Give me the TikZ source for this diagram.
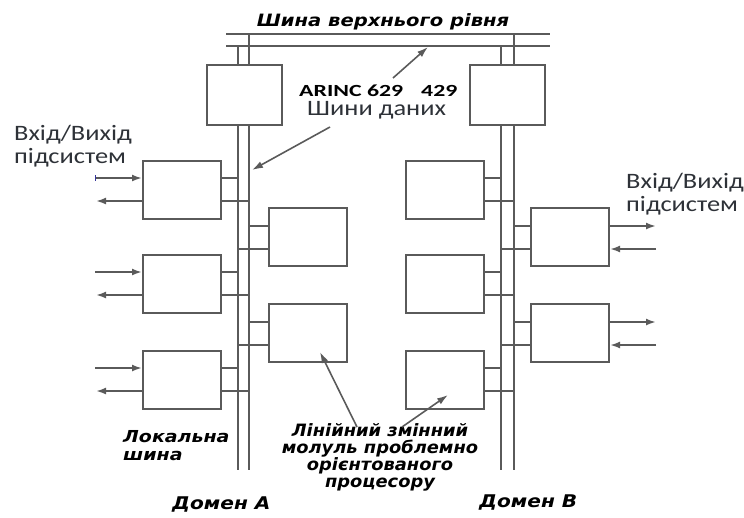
\documentclass[tikz,border=0pt]{standalone}
\usepackage{fontspec}
\setmainfont{Carlito}
\newfontfamily\gfont{DejaVu Sans}[FakeStretch=1.15]
\newfontfamily\hfont{DejaVu Sans}[FakeStretch=1.05]
\newfontfamily\cfont{Carlito}[FakeStretch=1.2]
\newfontfamily\afont{Carlito}[FakeStretch=1.4]
\usetikzlibrary{arrows.meta,calc}
\definecolor{ln}{HTML}{5A5A5A}
\definecolor{tx}{HTML}{2E3238}
\begin{document}
\begin{tikzpicture}[x=1pt,y=-1pt,
  box/.style={draw=ln, line width=2pt, fill=white, minimum width=78pt, minimum height=58pt, inner sep=0pt},
  topbox/.style={box, minimum width=75pt, minimum height=60pt},
  bus/.style={draw=ln, line width=2pt},
  io/.style={draw=ln, line width=2pt, -{Latex[length=10pt,width=7pt]}},
  ptr/.style={draw=ln, line width=1.6pt, -{Latex[length=11pt,width=7pt]}},
  lab/.style={font=\gfont\bfseries\itshape\fontsize{16}{17}\selectfont, text=black, inner sep=0pt},
  cal/.style={font=\cfont\fontsize{22}{23}\selectfont, text=tx, inner sep=0pt, align=left},
  arinc/.style={font=\afont\bfseries\fontsize{17}{18}\selectfont, text=black, inner sep=0pt}]
\useasboundingbox (0,0) rectangle (744,517);
% bus coordinates
\coordinate (T1w) at (226,34); \coordinate (T1e) at (550,34);
\coordinate (T2w) at (226,46); \coordinate (T2e) at (550,46);
\coordinate (A1t) at (238,46); \coordinate (A1b) at (238,470);
\coordinate (A2t) at (249,34); \coordinate (A2b) at (249,470);
\coordinate (B1t) at (501,46); \coordinate (B1b) at (501,470);
\coordinate (B2t) at (514,34); \coordinate (B2b) at (514,470);
\draw[bus] (T1w) -- (T1e);
\draw[bus] (T2w) -- (T2e);
\draw[bus] (A1t) -- (A1b);
\draw[bus] (A2t) -- (A2b);
\draw[bus] (B1t) -- (B1b);
\draw[bus] (B2t) -- (B2b);
% boxes
\node[topbox] (TA) at (244.5,95) {};
\node[topbox] (TB) at (507.5,95) {};
\node[box] (L1) at (182,190) {};
\node[box] (L2) at (182,284) {};
\node[box] (L3) at (182,380) {};
\node[box] (M1) at (308,237) {};
\node[box] (M2) at (308,333) {};
\node[box] (N1) at (445,190) {};
\node[box] (N2) at (445,284) {};
\node[box] (N3) at (445,380) {};
\node[box] (R1) at (570,237) {};
\node[box] (R2) at (570,333) {};
% stubs
\foreach \b in {L1,L2,L3}{
  \draw[bus] ([yshift=12pt]\b.east) -- ([yshift=12pt]\b.east -| A1t);
  \draw[bus] ([yshift=-11pt]\b.east) -- ([yshift=-11pt]\b.east -| A2t);
  \coordinate (in\b) at ([xshift=-47pt,yshift=12pt]\b.west);
  \coordinate (out\b) at ([xshift=-46pt,yshift=-11pt]\b.west);
  \draw[io] (in\b) -- ([yshift=12pt]\b.west);
  \draw[io] ([yshift=-11pt]\b.west) -- (out\b);
}
\foreach \b in {M1,M2}{
  \draw[bus] ([yshift=11pt]\b.west) -- ([yshift=11pt]\b.west -| A2t);
  \draw[bus] ([yshift=-12pt]\b.west) -- ([yshift=-12pt]\b.west -| A1t);
}
\foreach \b in {N1,N2,N3}{
  \draw[bus] ([yshift=12pt]\b.east) -- ([yshift=12pt]\b.east -| B1t);
  \draw[bus] ([yshift=-11pt]\b.east) -- ([yshift=-11pt]\b.east -| B2t);
}
\foreach \b in {R1,R2}{
  \draw[bus] ([yshift=11pt]\b.west) -- ([yshift=11pt]\b.west -| B2t);
  \draw[bus] ([yshift=-12pt]\b.west) -- ([yshift=-12pt]\b.west -| B1t);
  \coordinate (out\b) at ([xshift=46pt,yshift=11pt]\b.east);
  \coordinate (in\b) at ([xshift=46pt,yshift=-12pt]\b.east);
  \draw[io] ([yshift=11pt]\b.east) -- (out\b);
  \draw[io] (in\b) -- ([yshift=-12pt]\b.east);
}
% small tick at first input
\draw[draw=blue!40!ln, line width=0.8pt] ($(inL1)+(0,-3)$) -- ($(inL1)+(0,3)$);
% texts
\node[lab, anchor=base, font=\gfont\bfseries\itshape\fontsize{17}{18}\selectfont] (topt) at (383,26) {Шина верхнього рівня};
\node[arinc, anchor=base west] (arinc) at (299,96) {ARINC 629};
\node[arinc, anchor=base west] (a429) at (421,96) {429};
\node[cal, anchor=base west] (sd) at (307,115) {Шини даних};
\node[cal, anchor=base west] (ioL) at (14,163) {Вхід/Вихід\\підсистем};
\node[cal, anchor=base west] (ioR) at (626,211) {Вхід/Вихід\\підсистем};
\node[lab, anchor=base west, align=left, font=\gfont\bfseries\itshape\fontsize{16.5}{18}\selectfont] (loc) at (123,460) {Локальна\\шина};
\node[lab, anchor=base, align=center, font=\hfont\bfseries\itshape\fontsize{17}{16.8}\selectfont] (mod) at (380,487) {Лінійний змінний\\молуль проблемно\\орієнтованого\\процесору};
\node[lab, anchor=base west, font=\gfont\bfseries\itshape\fontsize{17.5}{18}\selectfont] (domA) at (172,509) {Домен А};
\node[lab, anchor=base west, font=\gfont\bfseries\itshape\fontsize{17.5}{18}\selectfont] (domB) at (479,507) {Домен В};
% pointers
\coordinate (p1s) at (393,78); \coordinate (p1e) at (428,47);
\coordinate (p2s) at (330,127); \coordinate (p2e) at (252,170);
\coordinate (p3s) at (357,427); \coordinate (p3e) at (320,352);
\coordinate (p4s) at (402,427); \coordinate (p4e) at (448,395);
\draw[ptr] (p1s) -- (p1e);
\draw[ptr] (p2s) -- (p2e);
\draw[ptr] (p3s) -- (p3e);
\draw[ptr] (p4s) -- (p4e);
\end{tikzpicture}
\end{document}
